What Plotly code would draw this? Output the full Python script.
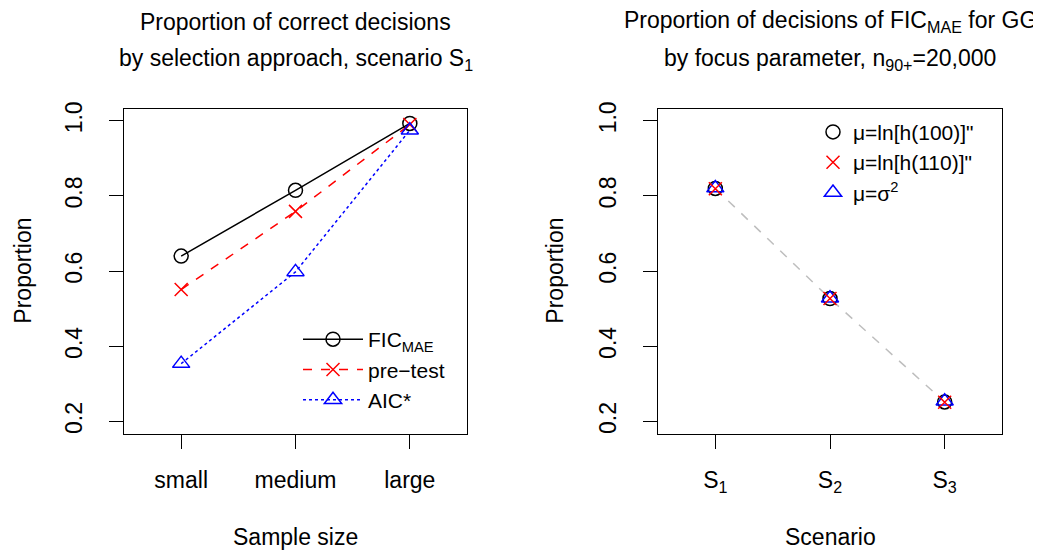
import plotly.graph_objects as go

# ---- data ----
sample_sizes = ["small", "medium", "large"]
fic_mae = [0.640, 0.815, 0.993]
pre_test = [0.551, 0.759, 0.990]
aic_star = [0.354, 0.598, 0.975]

scenarios = ["S<sub>1</sub>", "S<sub>2</sub>", "S<sub>3</sub>"]
focus_h100 = [0.820, 0.527, 0.252]
focus_h110 = [0.819, 0.527, 0.251]
focus_sigma2 = [0.821, 0.528, 0.254]

y_ticks = [0.2, 0.4, 0.6, 0.8, 1.0]

FONT = "Liberation Sans, Arial, sans-serif"
FS = 23
LFS = 21
OFF = 8  # default body margin of the page
W, H = 1041 - OFF, 550 - OFF

def px_x(x):
    return (x - OFF) / W

def px_y(y):
    return 1 - (y - OFF) / H

fig = go.Figure()
xpos = [1, 2, 3]

# left panel
fig.add_trace(go.Scatter(x=xpos, y=fic_mae, mode="lines+markers", name="FIC<sub>MAE</sub>",
                         line=dict(color="black", width=1.5, dash="solid"),
                         marker=dict(symbol="circle-open", size=14, color="black", line=dict(width=1.5)),
                         xaxis="x", yaxis="y", legend="legend"))
fig.add_trace(go.Scatter(x=xpos, y=pre_test, mode="lines+markers", name="pre\u2212test",
                         line=dict(color="red", width=1.5, dash="dash"),
                         marker=dict(symbol="x-thin-open", size=13, color="red", line=dict(width=1.5, color="red")),
                         xaxis="x", yaxis="y", legend="legend"))
fig.add_trace(go.Scatter(x=xpos, y=aic_star, mode="lines+markers", name="AIC*",
                         line=dict(color="blue", width=1.5, dash="dot"),
                         marker=dict(symbol="triangle-up-open", size=15, color="blue", line=dict(width=1.5)),
                         xaxis="x", yaxis="y", legend="legend"))

# right panel
fig.add_trace(go.Scatter(x=xpos, y=focus_h100, mode="lines", showlegend=False,
                         line=dict(color="#BEBEBE", width=1.5, dash="dash"),
                         xaxis="x2", yaxis="y2", hoverinfo="skip"))
fig.add_trace(go.Scatter(x=xpos, y=focus_h100, mode="markers", name="\u03bc=ln[h(100)]\"",
                         marker=dict(symbol="circle-open", size=14, color="black", line=dict(width=1.5)),
                         xaxis="x2", yaxis="y2", legend="legend2", legendrank=1))
fig.add_trace(go.Scatter(x=xpos, y=focus_sigma2, mode="markers", name="\u03bc=\u03c3<sup>2</sup>",
                         marker=dict(symbol="triangle-up-open", size=15, color="blue", line=dict(width=1.5)),
                         xaxis="x2", yaxis="y2", legend="legend2", legendrank=3))
fig.add_trace(go.Scatter(x=xpos, y=focus_h110, mode="markers", name="\u03bc=ln[h(110)]\"",
                         marker=dict(symbol="x-thin-open", size=13, color="red", line=dict(width=1.5, color="red")),
                         xaxis="x2", yaxis="y2", legend="legend2", legendrank=2))

axis_common = dict(showline=True, mirror=True, linecolor="black", linewidth=1,
                   ticks="outside", ticklen=14, tickwidth=1, tickcolor="black",
                   showgrid=False, zeroline=False, tickfont=dict(size=FS, color="black", family=FONT))

yr = [0.168, 1.032]
fig.update_layout(
    width=W, height=H,
    margin=dict(l=0, r=0, t=0, b=0),
    paper_bgcolor="white", plot_bgcolor="white",
    font=dict(family=FONT, size=FS, color="black"),
    xaxis=dict(domain=[px_x(124), px_x(467)], range=[0.5, 3.5], tickvals=xpos, ticktext=sample_sizes,
               anchor="y", ticklabelstandoff=12, **axis_common),
    yaxis=dict(domain=[px_y(432), px_y(103)], range=yr, tickvals=y_ticks, ticktext=[f"{v:.1f}" for v in y_ticks],
               tickangle=-90, anchor="x", ticklabelstandoff=18, **axis_common),
    xaxis2=dict(domain=[px_x(658), px_x(1002)], range=[0.5, 3.5], tickvals=xpos, ticktext=scenarios,
                anchor="y2", ticklabelstandoff=12, **axis_common),
    yaxis2=dict(domain=[px_y(432), px_y(103)], range=yr, tickvals=y_ticks, ticktext=[f"{v:.1f}" for v in y_ticks],
                tickangle=-90, anchor="x2", ticklabelstandoff=18, **axis_common),
    legend=dict(x=px_x(298), y=px_y(316), xanchor="left", yanchor="top", bgcolor="rgba(0,0,0,0)",
                font=dict(size=LFS, family=FONT), tracegroupgap=0, itemwidth=60),
    legend2=dict(x=px_x(813), y=px_y(106), xanchor="left", yanchor="top", bgcolor="rgba(0,0,0,0)",
                 font=dict(size=LFS, family=FONT), tracegroupgap=0, itemwidth=30),
    showlegend=True,
)

annotations = [
    dict(text="Proportion of correct decisions", x=px_x(295.5), y=px_y(15)),
    dict(text="by selection approach, scenario S<sub>1</sub>", x=px_x(295.5), y=px_y(53)),
    dict(text="Proportion of decisions of FIC<sub>MAE</sub> for GG", x=px_x(830), y=px_y(15)),
    dict(text="by focus parameter, n<sub>90+</sub>=20,000", x=px_x(830), y=px_y(53)),
    dict(text="Sample size", x=px_x(295.5), y=px_y(537)),
    dict(text="Scenario", x=px_x(830), y=px_y(537)),
    dict(text="Proportion", x=px_x(23), y=px_y(267), textangle=-90),
    dict(text="Proportion", x=px_x(555), y=px_y(267), textangle=-90),
]
for a in annotations:
    fig.add_annotation(xref="paper", yref="paper", showarrow=False, xanchor="center", yanchor="middle",
                       font=dict(size=FS, family=FONT, color="black"), **a)

fig.write_html("out.html")
